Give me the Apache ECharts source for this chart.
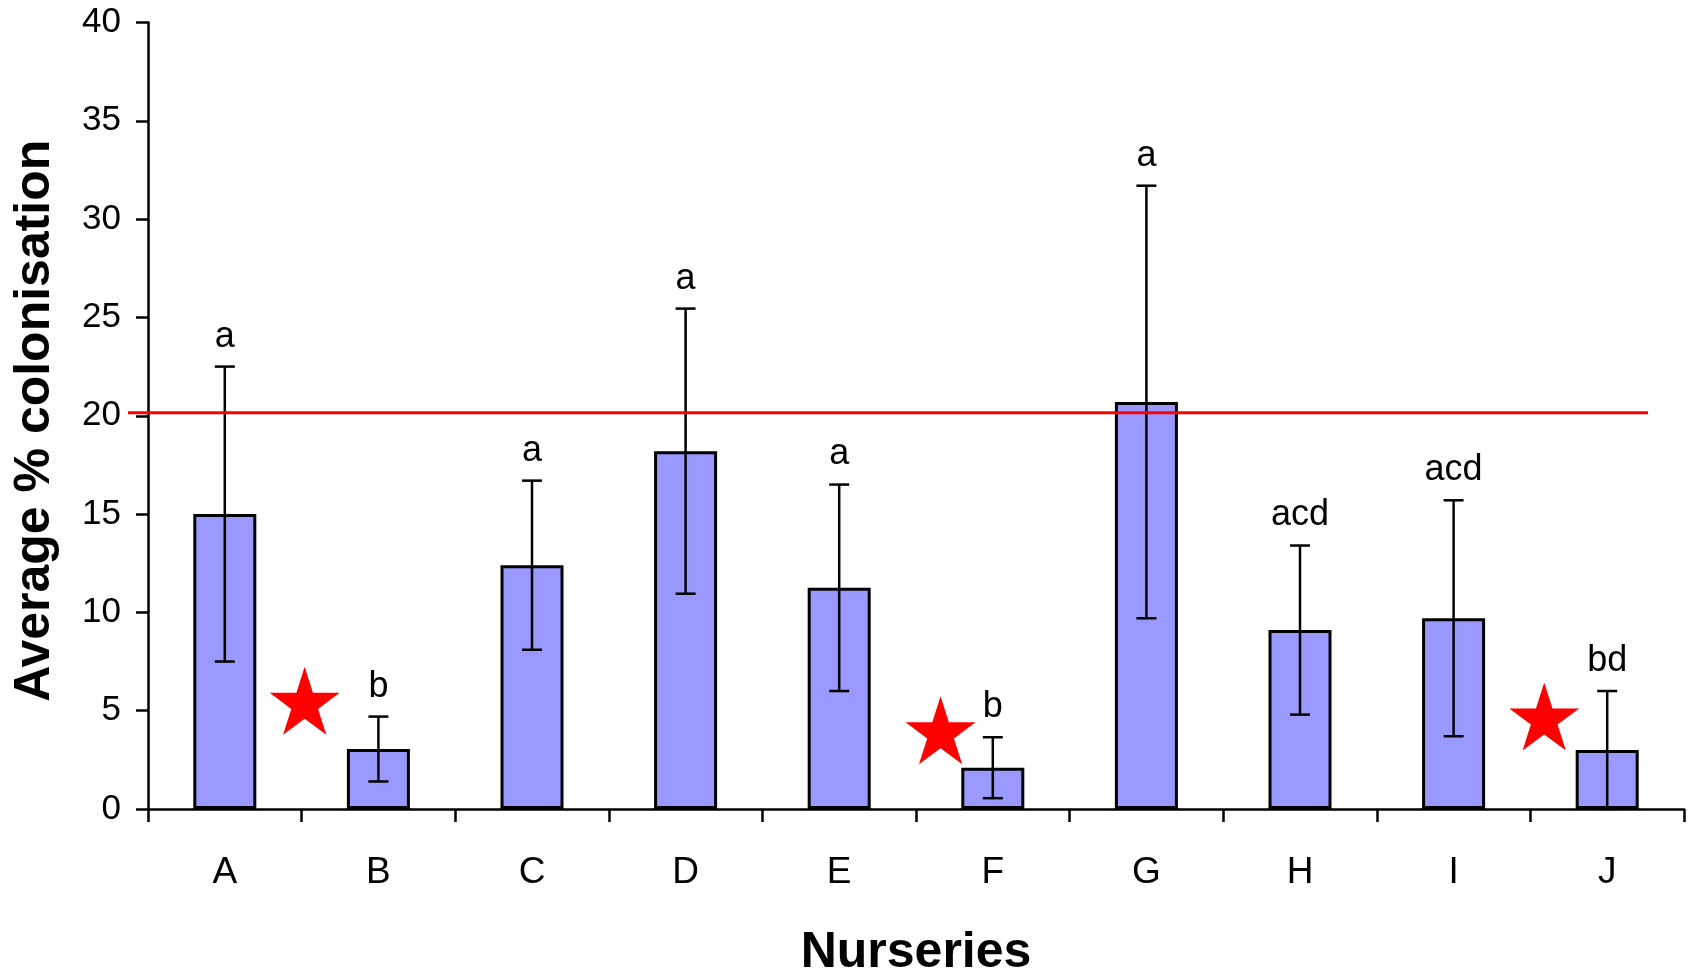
<!DOCTYPE html>
<html>
<head>
<meta charset="utf-8">
<script src="https://cdn.jsdelivr.net/npm/echarts@6/dist/echarts.min.js"></script>
<style>
html,body{margin:0;padding:0;background:#fff;}
#chart{width:1696px;height:971px;}
</style>
</head>
<body>
<div id="chart"></div>
<script>
const categories = ['A', 'B', 'C', 'D', 'E', 'F', 'G', 'H', 'I', 'J'];
const means = [15.0, 3.05, 12.4, 18.2, 11.25, 2.1, 20.7, 9.1, 9.7, 3.0];
const errors = [7.5, 1.65, 4.3, 7.25, 5.25, 1.55, 11.0, 4.3, 6.0, 3.0];
const letters = ['a', 'b', 'a', 'a', 'a', 'b', 'a', 'acd', 'acd', 'bd'];
const threshold = 20.15;
const starX = [1.02, 5.16, 9.09];
const starY = [5.5, 4.0, 4.7];
const yMin = 0, yMax = 40, yStep = 5;

const FONT = '"Liberation Sans", Arial, sans-serif';
const starPath = 'path://M50,0 L61.23,34.55 L97.55,34.55 L68.17,55.9 L79.39,90.45 L50,69.1 L20.61,90.45 L31.83,55.9 L2.45,34.55 L38.77,34.55 Z';

const errData = categories.map((c, i) => [i, Math.max(0, means[i] - errors[i]), means[i] + errors[i]]);

const chart = echarts.init(document.getElementById('chart'), null, {renderer: 'canvas'});
chart.setOption({
  animation: false,
  backgroundColor: '#ffffff',
  grid: {left: 148, right: 12, top: 22.5, bottom: 162, containLabel: false, outerBoundsMode: 'none'},
  xAxis: [{
    type: 'category',
    data: categories,
    boundaryGap: true,
    name: 'Nurseries',
    nameLocation: 'middle',
    nameGap: 119,
    nameTextStyle: {fontFamily: FONT, fontSize: 50, fontWeight: 'bold', color: '#000'},
    axisLine: {lineStyle: {color: '#000', width: 2.5}},
    axisTick: {show: true, length: 13, lineStyle: {color: '#000', width: 2.5}},
    axisLabel: {margin: 45, fontFamily: FONT, fontSize: 37, color: '#000'},
    splitLine: {show: false}
  }, {
    type: 'value', min: 0, max: categories.length, show: false
  }],
  yAxis: {
    type: 'value',
    min: yMin, max: yMax, interval: yStep,
    name: 'Average % colonisation',
    nameLocation: 'middle',
    nameGap: 88,
    nameTextStyle: {fontFamily: FONT, fontSize: 50, fontWeight: 'bold', color: '#000', padding: [0, 10, 0, 0]},
    axisLine: {show: true, lineStyle: {color: '#000', width: 2.5}},
    axisTick: {show: true, length: 12, lineStyle: {color: '#000', width: 2.5}},
    axisLabel: {margin: 27, fontFamily: FONT, fontSize: 35, color: '#000'},
    splitLine: {show: false}
  },
  series: [{
    type: 'bar',
    data: means,
    barWidth: 63,
    itemStyle: {color: '#9999FF', borderColor: '#000', borderWidth: 3},
    z: 2
  }, {
    type: 'custom',
    data: errData,
    z: 5,
    renderItem: function (params, api) {
      const idx = api.value(0);
      const lo = api.coord([idx, api.value(1)]);
      const hi = api.coord([idx, api.value(2)]);
      const cw = 10;
      const ls = {stroke: '#000', lineWidth: 2.5};
      return {
        type: 'group',
        children: [
          {type: 'line', shape: {x1: hi[0], y1: hi[1], x2: lo[0], y2: lo[1]}, style: ls},
          {type: 'line', shape: {x1: hi[0] - cw, y1: hi[1], x2: hi[0] + cw, y2: hi[1]}, style: ls},
          {type: 'line', shape: {x1: lo[0] - cw, y1: lo[1], x2: lo[0] + cw, y2: lo[1]}, style: ls},
          {type: 'text', style: {
            text: letters[params.dataIndex], x: hi[0], y: hi[1] - 12,
            align: 'center', verticalAlign: 'bottom',
            fontFamily: FONT, fontSize: 36, fill: '#000'
          }}
        ]
      };
    }
  }, {
    type: 'custom',
    data: [[0, threshold]],
    z: 6,
    renderItem: function (params, api) {
      const p = api.coord([0, api.value(1)]);
      const cs = params.coordSys;
      return {
        type: 'line',
        shape: {x1: cs.x - 20, y1: p[1], x2: cs.x + cs.width * 0.9766, y2: p[1]},
        style: {stroke: '#FF0000', lineWidth: 3}
      };
    }
  }, {
    type: 'scatter',
    xAxisIndex: 1,
    data: starX.map((x, i) => [x, starY[i]]),
    symbol: starPath,
    symbolSize: [70, 68],
    itemStyle: {color: '#FF0000', opacity: 1},
    z: 7
  }]
});
</script>
</body>
</html>
